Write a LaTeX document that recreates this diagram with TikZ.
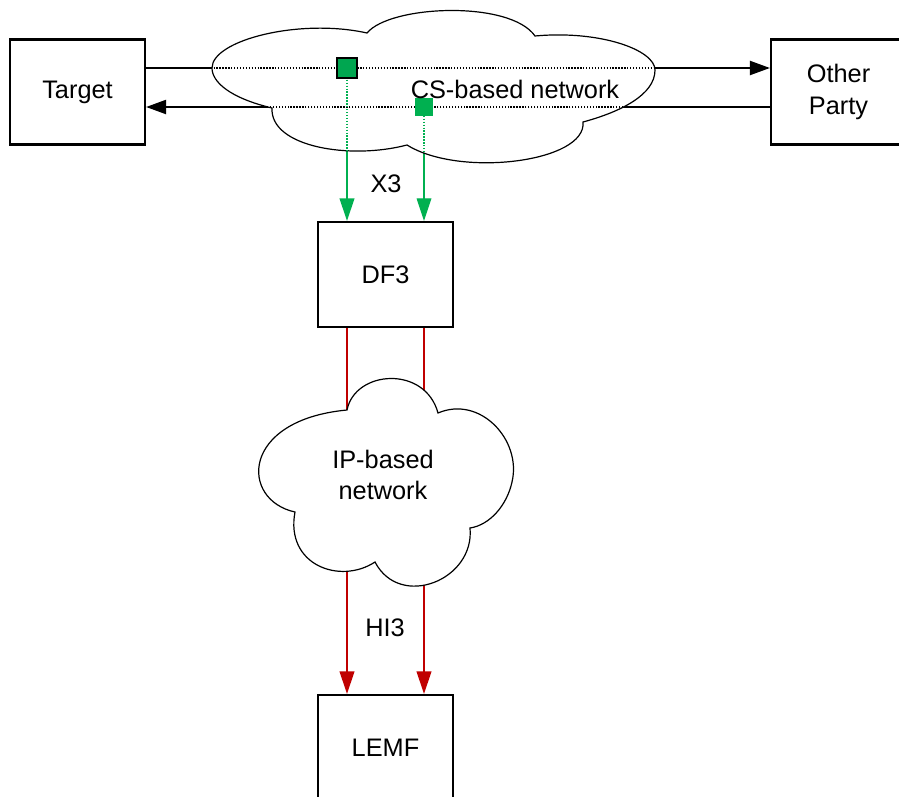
\documentclass[tikz,border=0pt]{standalone}
\usepackage{fontspec}
\setmainfont{Liberation Sans}
\usetikzlibrary{arrows.meta}
\definecolor{lgreen}{HTML}{00B050}
\definecolor{dgreen}{HTML}{00A650}
\definecolor{dred}{HTML}{C00000}
\def\cscloudpath{(272,108) .. controls (230,98) and (212,82) .. (212,68) .. controls (212,40) and (300,18) .. (367,33) .. controls (390,5) and (510,0) .. (535,36) .. controls (600,30) and (655,50) .. (655,70) .. controls (655,95) and (620,112) .. (583,122) .. controls (587,162) and (460,178) .. (407,145) .. controls (350,160) and (270,147) .. (272,108) -- cycle}
\def\ipcloudpath{(347,410) .. controls (355,370) and (425,365) .. (438,413) .. controls (480,395) and (522,440) .. (512,482) .. controls (507,505) and (490,525) .. (470,528) .. controls (475,580) and (400,610) .. (375,562) .. controls (340,585) and (285,565) .. (295,512) .. controls (240,500) and (240,420) .. (347,410) -- cycle}
\tikzset{
  lbl/.style={font=\fontsize{19}{23}\selectfont, align=center, inner sep=0pt},
  boxnode/.style={draw, line width=1.6pt, minimum width=101.25pt, minimum height=78.75pt, inner sep=0pt, align=center, font=\fontsize{19}{23.5}\selectfont},
  blkline/.style={line width=1.6pt, -{Triangle[length=15pt,width=10.5pt]}},
  grnline/.style={draw=lgreen, -{Triangle[length=17pt,width=11pt]}},
  redline/.style={draw=dred, line width=1.6pt, -{Triangle[length=17pt,width=11pt]}},
  cloudline/.style={draw=black, line width=0.9pt, fill=white},
  dotline/.style={line width=0.85pt, dash pattern=on 1pt off 1.2pt},
}
\begin{document}
\begin{tikzpicture}[x=0.75pt, y=-0.75pt]
\useasboundingbox (0,0) rectangle (899,796);
\clip (0,0) rectangle (899,796);
% boxes
\node[boxnode] (tgt) at (77.5,92) {Target};
\node[boxnode] (oth) at (838.5,92) {Other\\Party};
\node[boxnode] (df3) at (385.5,274.5) {DF3};
\node[boxnode] (lemf) at (385.5,747.5) {LEMF};
% square positions
\coordinate (s1) at (347,68);
\coordinate (s2) at (424,107);
% black connectors
\draw[blkline] (tgt.east |- s1) -- (oth.west |- s1);
\draw[blkline] (oth.west |- s2) -- (tgt.east |- s2);
% green connectors
\draw[grnline, line width=1.6pt] (s1) -- (s1 |- df3.north);
\draw[grnline, line width=0.9pt] (s2) -- (s2 |- df3.north);
% red connectors
\draw[redline] (df3.south -| s1) -- (lemf.north -| s1);
\draw[redline] (df3.south -| s2) -- (lemf.north -| s2);
% clouds
\path[cloudline] \cscloudpath;
\path[cloudline] \ipcloudpath;
\begin{scope}
  \clip \cscloudpath;
  \draw[dotline] (tgt.east |- s1) -- (oth.west |- s1);
  \draw[dotline] (oth.west |- s2) -- (tgt.east |- s2);
  \draw[dotline, draw=lgreen] (s1) -- (s1 |- df3.north);
  \draw[dotline, draw=lgreen] (s2) -- (s2 |- df3.north);
\end{scope}
% squares
\node[draw=black, line width=1pt, fill=dgreen, minimum size=15pt, inner sep=0pt] (sq1) at (s1) {};
\node[fill=lgreen, minimum size=13.5pt, inner sep=0pt] (sq2) at (s2) {};
% labels
\node[lbl] (cs) at (515,89) {CS-based network};
\node[lbl] (ip) at (383,475) {IP-based\\network};
\node[lbl] (x3) at (386,184) {X3};
\node[lbl] (hi3) at (385,628) {HI3};
\end{tikzpicture}
\end{document}
